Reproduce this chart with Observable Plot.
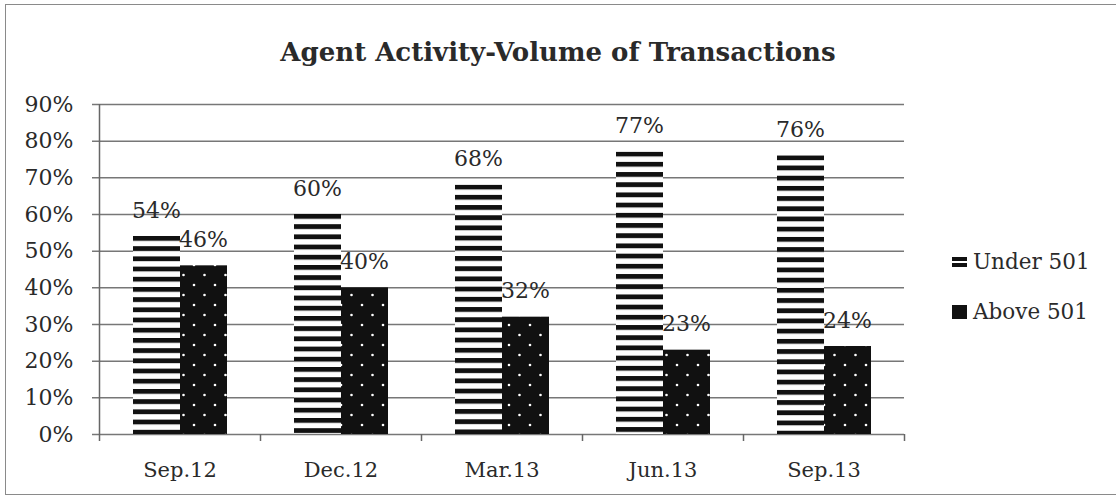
<!DOCTYPE html>
<html>
<head>
<meta charset="utf-8">
<script src="https://cdn.jsdelivr.net/npm/d3@7"></script>
<script src="https://cdn.jsdelivr.net/npm/@observablehq/plot@0.6"></script>
<style>
  html, body { margin: 0; padding: 0; background: #fff; }
  #wrap { position: relative; width: 1116px; height: 499px; overflow: hidden; font-family: "DejaVu Serif", serif; color: #2a2a2a; }
  #frame { position: absolute; left: 5px; top: 4px; width: 1120px; height: 491px; border: 1.5px solid #8a8a8a; box-sizing: border-box; }
  #title { position: absolute; left: 0; top: 36px; width: 1116px; text-align: center; font-weight: bold; font-size: 26px; line-height: 32px; }
  #chart { position: absolute; left: 0; top: 80px; }
  #chart [aria-label^="x-axis"] text { font-size: 21px; }
  .leg { position: absolute; left: 952px; font-size: 21.5px; line-height: 26px; display: flex; align-items: center; }
  .leg svg { margin-right: 6px; }
</style>
</head>
<body>
<div id="wrap">
  <div id="frame"></div>
  <div id="title">Agent Activity-Volume of Transactions</div>
  <div id="chart"></div>
  <div class="leg" style="top:249px"><svg width="15" height="12"><rect x="0" y="1" width="15" height="4" fill="#111"/><rect x="0" y="7" width="15" height="4" fill="#111"/></svg><span>Under 501</span></div>
  <div class="leg" style="top:299px"><svg width="15" height="14"><rect x="0" y="0" width="15" height="14" fill="#111"/></svg><span>Above 501</span></div>
</div>
<script>
const categories = ["Sep.12", "Dec.12", "Mar.13", "Jun.13", "Sep.13"];
const series = ["Under 501", "Above 501"];
const under501 = [0.54, 0.60, 0.68, 0.77, 0.76];
const above501 = [0.46, 0.40, 0.32, 0.23, 0.24];
const yTicks = [0, 0.1, 0.2, 0.3, 0.4, 0.5, 0.6, 0.7, 0.8, 0.9];

const data = [];
categories.forEach((c, i) => {
  data.push({cat: c, series: series[0], value: under501[i]});
  data.push({cat: c, series: series[1], value: above501[i]});
});
const underData = data.filter(d => d.series === series[0]);
const aboveData = data.filter(d => d.series === series[1]);
const fmt = d3.format(".0%");
const halfBand = 80.5;

const chart = Plot.plot({
  width: 1116,
  height: 410,
  marginLeft: 99,
  marginRight: 212,
  marginTop: 24,
  marginBottom: 56,
  style: {fontFamily: "DejaVu Serif", fontSize: "22px", color: "#2a2a2a", background: "transparent", overflow: "visible"},
  x: {domain: categories, padding: 0, tickSize: 0, tickPadding: 28, label: null},
  y: {domain: [0, 0.9], ticks: yTicks, tickFormat: fmt, tickSize: 0, tickPadding: 26, label: null},
  color: {domain: series, range: ["url(#stripes)", "url(#dots)"]},
  marks: [
    Plot.ruleY(yTicks, {y: d => d, stroke: "#777", strokeWidth: 1.5, insetLeft: -7}),
    Plot.barY(underData, {x: "cat", y: "value", fill: "series", insetLeft: 34, insetRight: 80}),
    Plot.barY(aboveData, {x: "cat", y: "value", fill: "series", insetLeft: 81, insetRight: 33}),
    Plot.ruleX([categories[0]], {x: d => d, y1: 0, y2: 0.9, dx: -halfBand, stroke: "#666", strokeWidth: 1.5}),
    Plot.ruleX(categories, {x: d => d, y1: 0, y2: 0, insetBottom: -7, dx: -halfBand, stroke: "#666", strokeWidth: 1.5}),
    Plot.ruleX([categories[categories.length - 1]], {x: d => d, y1: 0, y2: 0, insetBottom: -7, dx: halfBand, stroke: "#666", strokeWidth: 1.5}),
    Plot.text(underData, {x: "cat", y: "value", text: d => fmt(d.value), dx: -23.5, dy: -26, fill: "#2a2a2a", fontSize: 22}),
    Plot.text(aboveData, {x: "cat", y: "value", text: d => fmt(d.value), dx: 23.5, dy: -26, fill: "#2a2a2a", fontSize: 22})
  ]
});

const defs = d3.select(chart).insert("defs", ":first-child");
function addStripes(id, y0) {
  const p = defs.append("pattern").attr("id", id).attr("patternUnits", "userSpaceOnUse")
    .attr("x", 0).attr("y", y0).attr("width", 12).attr("height", 10.2);
  p.append("rect").attr("width", 12).attr("height", 10.2).attr("fill", "#fff");
  p.append("rect").attr("width", 12).attr("height", 4.8).attr("fill", "#111");
}
addStripes("stripes", 0);
const dots = defs.append("pattern").attr("id", "dots").attr("patternUnits", "userSpaceOnUse")
  .attr("width", 21).attr("height", 20);
dots.append("rect").attr("width", 21).attr("height", 20).attr("fill", "#111");
dots.append("circle").attr("cx", 5).attr("cy", 5).attr("r", 1.3).attr("fill", "#fff");
dots.append("circle").attr("cx", 15.5).attr("cy", 15).attr("r", 1.3).attr("fill", "#fff");

// align each striped bar's pattern to its own top edge
d3.select(chart).selectAll("rect").each(function(_, i) {
  const r = d3.select(this);
  if (r.attr("fill") === "url(#stripes)") {
    const id = "stripes-" + i;
    addStripes(id, +r.attr("y"));
    r.attr("fill", `url(#${id})`);
  }
});

document.getElementById("chart").appendChild(chart);
</script>
</body>
</html>
